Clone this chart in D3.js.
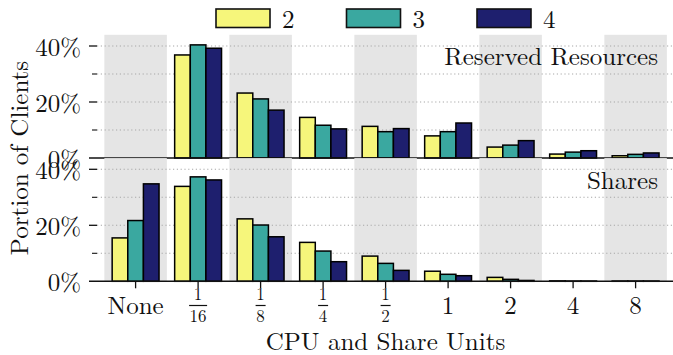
<!DOCTYPE html>
<html>
<head>
<meta charset="utf-8">
<script src="https://cdn.jsdelivr.net/npm/d3@7/dist/d3.min.js"></script>
<style>
  html, body { margin: 0; padding: 0; background: #fff; }
  svg { display: block; }
  svg text { font-family: 'Latin Modern Roman', 'Liberation Serif', serif; }
</style>
</head>
<body>
<svg id="chart" width="673" height="355"></svg>
<script>
// Allocation categories (CPU / share units)
const categories = ["None", "1/16", "1/8", "1/4", "1/2", "1", "2", "4", "8"];
const seriesNames = ["2", "3", "4"];
const seriesColors = ["#f6f67b", "#3aa8a0", "#1e1f6e"];

// Reserved resources, portion of clients (%)
const reserved2 = [0, 36.8, 23.2, 14.5, 11.3, 7.9, 3.9, 1.4, 0.8];
const reserved3 = [0, 40.4, 21.1, 11.7, 9.4, 9.4, 4.6, 2.1, 1.3];
const reserved4 = [0, 39.2, 17.1, 10.4, 10.5, 12.5, 6.2, 2.6, 1.8];

// Shares, portion of clients (%)
const shares2 = [15.5, 33.9, 22.3, 13.9, 9.0, 3.6, 1.4, 0.15, 0.1];
const shares3 = [21.7, 37.3, 20.1, 10.8, 6.4, 2.5, 0.7, 0.1, 0.1];
const shares4 = [34.8, 36.2, 15.9, 7.0, 3.9, 2.0, 0.3, 0.1, 0.1];

const yMajorTicks = [0, 20, 40];
const yMinorTicks = [10, 30];
const yMax = 44;

const svg = d3.select("#chart");
const plotLeft = 89, plotRight = 682;
const ink = "#111";

const x = d3.scaleBand().domain(categories).range([104.35, 666.85]).paddingInner(0).paddingOuter(0);
const xs = d3.scaleBand().domain(seriesNames)
  .range([x.bandwidth() * 0.125, x.bandwidth() * 0.875]);

const panels = [
  { title: "Reserved Resources", series: [reserved2, reserved3, reserved4],
    y: d3.scaleLinear().domain([0, yMax]).range([158, 34.8]), titleY: 65 },
  { title: "Shares", series: [shares2, shares3, shares4],
    y: d3.scaleLinear().domain([0, yMax]).range([281.3, 158.1]), titleY: 189 }
];

panels.forEach((p, pi) => {
  const g = svg.append("g");
  const [y0, y1] = p.y.range();

  // alternating shaded category bands
  g.selectAll("rect.band").data(categories.filter((c, i) => i % 2 === 0)).join("rect")
    .attr("x", d => x(d)).attr("width", x.bandwidth())
    .attr("y", y1).attr("height", y0 - y1)
    .attr("fill", "#e5e5e5");

  // dotted grid
  g.selectAll("line.grid").data(yMajorTicks.filter(v => v > 0).concat(yMinorTicks)).join("line")
    .attr("x1", plotLeft + 8).attr("x2", plotRight)
    .attr("y1", d => p.y(d)).attr("y2", d => p.y(d))
    .attr("stroke", "#a8a8a8").attr("stroke-width", 1.1)
    .attr("stroke-dasharray", "1.2,2.6");

  // bars
  p.series.forEach((vals, si) => {
    g.selectAll("rect.bar" + si).data(vals.map((v, i) => ({ c: categories[i], v }))).join("rect")
      .attr("x", d => x(d.c) + xs(seriesNames[si]))
      .attr("width", xs.bandwidth())
      .attr("y", d => p.y(d.v))
      .attr("height", d => y0 - p.y(d.v))
      .attr("fill", seriesColors[si])
      .attr("stroke", "#000").attr("stroke-width", 1.5);
  });

  // baseline
  g.append("line").attr("x1", plotLeft).attr("x2", plotRight)
    .attr("y1", y0).attr("y2", y0).attr("stroke", ink).attr("stroke-width", 1.5);

  // y ticks
  g.selectAll("line.ymaj").data(yMajorTicks.filter(v => v > 0)).join("line")
    .attr("x1", plotLeft).attr("x2", plotLeft + 8)
    .attr("y1", d => p.y(d)).attr("y2", d => p.y(d))
    .attr("stroke", ink).attr("stroke-width", 1.3);
  g.selectAll("line.ymin").data(yMinorTicks).join("line")
    .attr("x1", plotLeft + 3).attr("x2", plotLeft + 8)
    .attr("y1", d => p.y(d)).attr("y2", d => p.y(d))
    .attr("stroke", ink).attr("stroke-width", 1.1);

  svg.selectAll("text.ylab" + pi).data(yMajorTicks).join("text")
    .attr("x", 81).attr("y", d => p.y(d) + 10)
    .attr("text-anchor", "end").attr("font-size", 25).attr("fill", ink)
    .text(d => d + "%");

  svg.append("text").attr("x", 658).attr("y", p.titleY)
    .attr("text-anchor", "end").attr("font-size", 25).attr("fill", ink)
    .text(p.title);
});

// x ticks and labels on the lower panel
const yBottom = panels[1].y.range()[0];
categories.forEach(c => {
  const cx = x(c) + x.bandwidth() / 2;
  svg.append("line").attr("x1", cx).attr("x2", cx)
    .attr("y1", yBottom).attr("y2", yBottom + 7)
    .attr("stroke", ink).attr("stroke-width", 1.3);
  if (c.includes("/")) {
    const [num, den] = c.split("/");
    svg.append("text").attr("x", cx).attr("y", 300).attr("fill", ink)
      .attr("text-anchor", "middle").attr("font-size", 17).text(num);
    const barW = den.length > 1 ? 18 : 10;
    svg.append("line").attr("x1", cx - barW / 2).attr("x2", cx + barW / 2)
      .attr("y1", 305.5).attr("y2", 305.5).attr("stroke", ink).attr("stroke-width", 1.2);
    svg.append("text").attr("x", cx).attr("y", 321.5).attr("fill", ink)
      .attr("text-anchor", "middle").attr("font-size", 17).text(den);
  } else {
    svg.append("text").attr("x", cx).attr("y", 314).attr("fill", ink)
      .attr("text-anchor", "middle").attr("font-size", 25).text(c);
  }
});

// axis titles
svg.append("text").attr("x", 385.5).attr("y", 349.5).attr("fill", ink)
  .attr("text-anchor", "middle").attr("font-size", 25)
  .text("CPU and Share Units");
svg.append("text").attr("fill", ink)
  .attr("transform", "translate(28,158) rotate(-90)")
  .attr("text-anchor", "middle").attr("font-size", 25)
  .text("Portion of Clients");

// legend
const legend = svg.append("g");
seriesNames.forEach((s, i) => {
  const lx = 216 + i * 130.5;
  legend.append("rect").attr("x", lx).attr("y", 9).attr("width", 54).attr("height", 18.5)
    .attr("fill", seriesColors[i]).attr("stroke", ink).attr("stroke-width", 1.6);
  legend.append("text").attr("x", lx + 66).attr("y", 28).attr("fill", ink)
    .attr("font-size", 25).text(s);
});
</script>
</body>
</html>
